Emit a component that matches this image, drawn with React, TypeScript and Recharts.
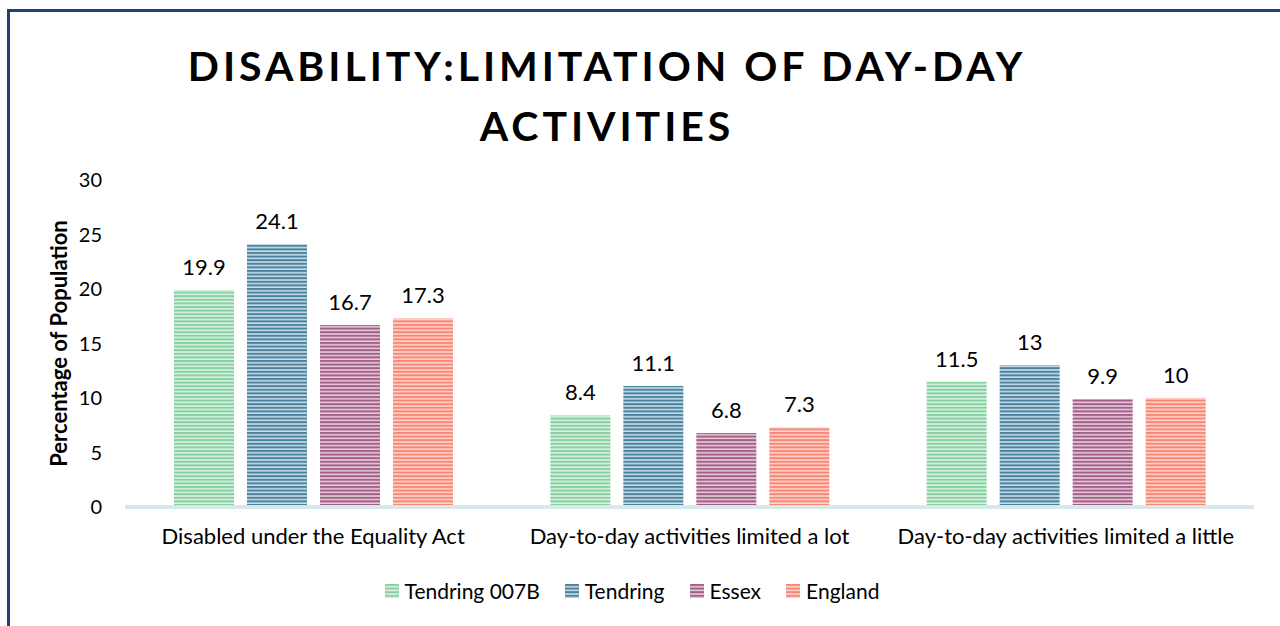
import { BarChart, Bar, XAxis, YAxis, LabelList } from 'recharts';

const categories = [
  'Disabled under the Equality Act',
  'Day-to-day activities limited a lot',
  'Day-to-day activities limited a little',
];
const tendring007B = [19.9, 8.4, 11.5];
const tendring = [24.1, 11.1, 13];
const essex = [16.7, 6.8, 9.9];
const england = [17.3, 7.3, 10];
const yTicks = [0, 5, 10, 15, 20, 25, 30];

const SERIES = [
  { key: 'tendring007B', name: 'Tendring 007B', dark: '#86cfa0', light: '#dcf2e4' },
  { key: 'tendring', name: 'Tendring', dark: '#4a83a2', light: '#c9dce6' },
  { key: 'essex', name: 'Essex', dark: '#a35f88', light: '#e6ccdb' },
  { key: 'england', name: 'England', dark: '#fb8674', light: '#fdd5ce' },
];

const data = categories.map((c, i) => ({
  category: c,
  tendring007B: tendring007B[i],
  tendring: tendring[i],
  essex: essex[i],
  england: england[i],
}));

const FONT = 'Lato, "Open Sans", sans-serif';

function StripeDefs() {
  return (
    <defs>
      {SERIES.map((s) => (
        <pattern key={s.key} id={`stripe-${s.key}`} width="8" height="3.6" patternUnits="userSpaceOnUse">
          <rect width="8" height="3.6" fill={s.light} />
          <rect width="8" height="2" fill={s.dark} />
        </pattern>
      ))}
    </defs>
  );
}

function LegendBlock() {
  return (
    <div
      style={{
        position: 'absolute',
        left: 0,
        top: 578,
        width: 1280,
        paddingRight: 16,
        boxSizing: 'border-box',
        display: 'flex',
        justifyContent: 'center',
        fontFamily: FONT,
        fontSize: 21,
        color: '#000',
      }}
    >
      {SERIES.map((s, i) => (
        <div key={s.key} style={{ display: 'flex', alignItems: 'center', marginRight: i < SERIES.length - 1 ? 25 : 0 }}>
          <svg width="14" height="14" style={{ marginRight: 6 }}>
            <rect width="14" height="14" fill={`url(#stripe-${s.key})`} />
          </svg>
          <span>{s.name}</span>
        </div>
      ))}
    </div>
  );
}

function YLabel(props: any) {
  const { viewBox } = props;
  const cy = viewBox.y + viewBox.height / 2;
  return (
    <text
      x={58}
      y={cy}
      transform={`rotate(-90, 58, ${cy})`}
      textAnchor="middle"
      dominantBaseline="central"
      fontFamily={FONT}
      fontSize={22}
      fontWeight="bold"
      fill="#000"
    >
      Percentage of Population
    </text>
  );
}

export default function App() {
  return (
    <div style={{ position: 'absolute', left: 0, top: 0, width: 1280, height: 626, overflow: 'hidden', background: '#fff' }}>
      <div
        style={{
          position: 'absolute',
          left: 7,
          top: 9,
          width: 1400,
          height: 800,
          border: '3px solid #233f78',
          boxSizing: 'border-box',
        }}
      />
      <svg style={{ position: 'absolute', left: 0, top: 0 }} width={1280} height={160}>
        <text x={607} y={81} textAnchor="middle" fontFamily={FONT} fontWeight="bold" fontSize={41} letterSpacing={3.95} fill="#000">
          DISABILITY:LIMITATION OF DAY-DAY
        </text>
        <text x={607} y={141} textAnchor="middle" fontFamily={FONT} fontWeight="bold" fontSize={41} letterSpacing={3.95} fill="#000">
          ACTIVITIES
        </text>
      </svg>
      <div style={{ position: 'absolute', left: 0, top: 0 }}>
        <BarChart
          width={1280}
          height={626}
          data={data}
          margin={{ top: 180, right: 26, bottom: 0, left: 40 }}
          barSize={60}
          barGap={13}
        >
          <StripeDefs />
          <XAxis
            dataKey="category"
            axisLine={{ stroke: '#d6e9ec', strokeWidth: 4 }}
            tickLine={false}
            tickSize={6}
            tickMargin={15}
            tick={{ fontFamily: FONT, fontSize: 22, fill: '#000' }}
            interval={0}
            height={119}
          />
          <YAxis
            domain={[0, 30]}
            ticks={yTicks}
            axisLine={false}
            tickLine={false}
            tickMargin={17}
            width={85}
            tick={{ fontFamily: FONT, fontSize: 20, fill: '#000' }}
            label={<YLabel />}
          />
          {SERIES.map((s) => (
            <Bar
              key={s.key}
              dataKey={s.key}
              name={s.name}
              fill={`url(#stripe-${s.key})`}
              isAnimationActive={false}
            >
              <LabelList
                dataKey={s.key}
                position="top"
                offset={15}
                style={{ fontFamily: FONT, fontSize: 22, fill: '#000' }}
              />
            </Bar>
          ))}
        </BarChart>
      </div>
      <LegendBlock />
    </div>
  );
}
